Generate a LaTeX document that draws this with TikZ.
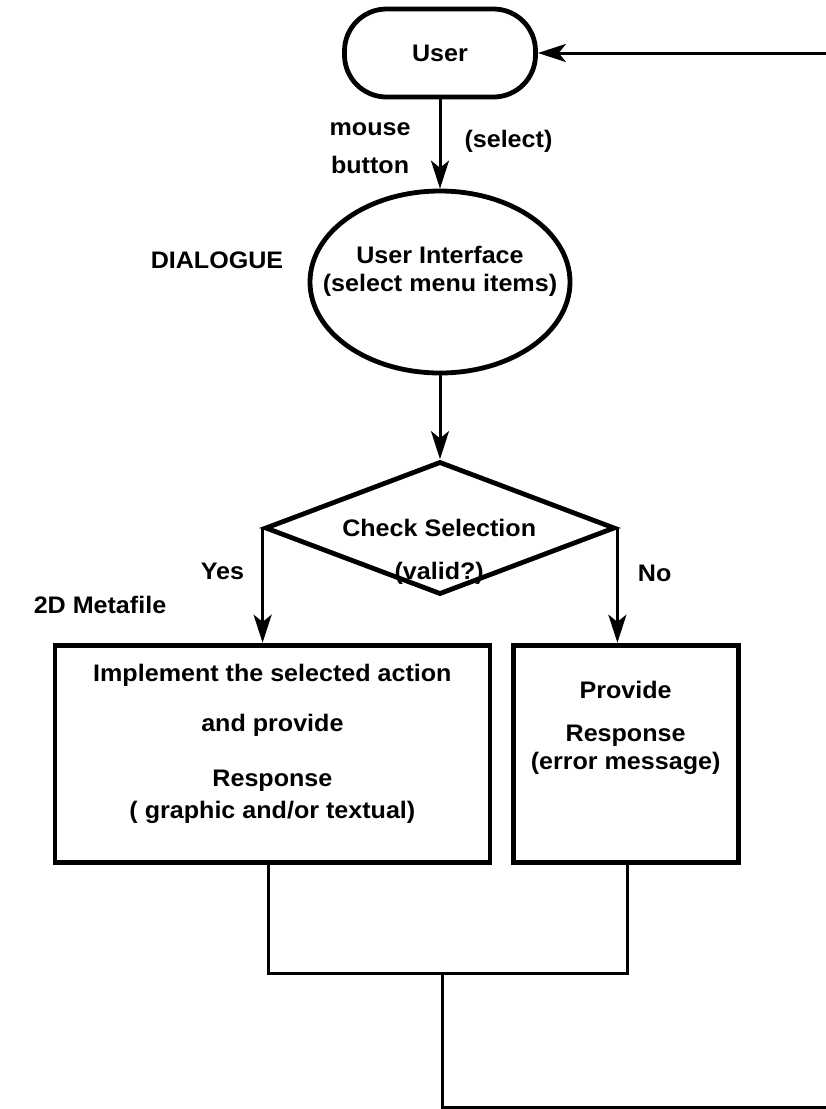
\documentclass[tikz,border=0pt]{standalone}
\usepackage{fontspec}
\setmainfont{Liberation Sans}[FakeStretch=1.05]
\usetikzlibrary{arrows.meta,shapes.geometric}
\tikzset{
  shp/.style={draw, line width=0.12cm, font=\fontsize{17}{20}\selectfont\bfseries},
  kuser/.style={shp, rounded corners=1.05cm, minimum width=4.775cm, minimum height=2.2cm},
  kdialog/.style={shp, ellipse, minimum width=6.5cm, minimum height=4.55cm, inner sep=0pt},
  kcheck/.style={shp, diamond, minimum width=8.75cm, minimum height=3.325cm, inner sep=0pt},
  kaction/.style={shp, align=center, inner sep=0pt, minimum height=5.425cm},
  txt/.style={align=center, inner sep=0pt, font=\fontsize{17}{20}\selectfont\bfseries},
  flow/.style={-{Stealth[length=0.7cm, width=0.45cm, inset=0.18cm]}, line width=0.075cm},
  link/.style={line width=0.075cm},
}
\begin{document}
\begin{tikzpicture}
  \useasboundingbox (0,0) rectangle (20.65,-27.725);
  \node[kuser] (user) at (11.00,-1.325) {User};
  \node[kdialog] (dialog) at (11.00,-7.05) {};
  \node[txt] (dialogtxt) at (11.00,-6.775) {User Interface\\(select menu items)};
  \node[txt] (dlglbl) at (5.425,-6.50) {DIALOGUE};
  \node[kcheck] (check) at (11.00,-13.20) {};
  \node[txt] (checktxt) at (10.98,-13.79) {Check Selection\\[10.7pt](valid?)};
  \node[txt] (metalbl) at (2.5,-15.125) {2D Metafile};
  \node[kaction, minimum width=10.875cm, text depth=0.6cm] (act) at (6.81,-18.84)
    {Implement the selected action\\[15.6pt]and provide\\[19.2pt]Response\\[2.8pt]( graphic and/or textual)};
  \node[kaction, minimum width=5.625cm, text depth=1.4cm] (err) at (15.64,-18.84)
    {Provide\\[10.7pt]Response\\(error message)};
  % loop back to the user
  \coordinate (back) at (20.65,-1.325);
  \coordinate (joinl) at (6.70,-24.325);
  \coordinate (joinr) at (15.675,-24.325);
  \coordinate (drop) at (11.05,-24.325);
  \coordinate (back2) at (20.65,-27.675);
  \draw[flow] (back) -- (user);
  \draw[flow] (user) -- (dialog)
    node[txt, midway, anchor=east, xshift=-0.7cm, yshift=-0.1cm] {mouse\\[7pt]button}
    node[txt, midway, anchor=west, xshift=0.575cm, yshift=0.075cm] {(select)};
  \draw[flow] (dialog) -- (check);
  \draw[flow] (check.west) -- (check.west |- act.north)
    node[txt, pos=0.38, anchor=east, xshift=-0.425cm] {Yes};
  \draw[flow] (check.east) -- (check.east |- err.north)
    node[txt, pos=0.40, anchor=west, xshift=0.475cm] {No};
  \draw[link] (joinl |- act.south) -- (joinl) -- (joinr) -- (joinr |- err.south);
  \draw[link] (drop) -- (drop |- back2) -- (back2);
\end{tikzpicture}
\end{document}
